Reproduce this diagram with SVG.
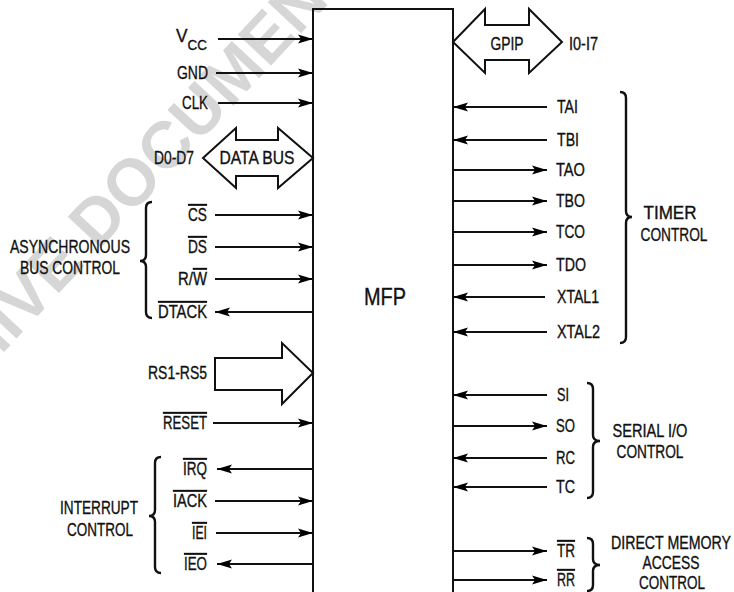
<svg xmlns="http://www.w3.org/2000/svg" width="734" height="592" viewBox="0 0 734 592">
<defs>
<marker id="ah" markerUnits="userSpaceOnUse" markerWidth="16" markerHeight="10" refX="15" refY="5" orient="auto">
<path d="M0,0.5 L15,5 L0,9.5 L3,5 Z" fill="#000"/>
</marker>
<style>
.t{font-family:"Liberation Sans",Arial,sans-serif;font-size:18px;fill:#111;stroke:#111;stroke-width:0.35}
.e{text-anchor:end}
.m{text-anchor:middle}
.ol{text-decoration:overline}
.w{fill:none;stroke:#111;stroke-width:2}
.a{fill:none;stroke:#111;stroke-width:2;marker-end:url(#ah)}
.b{fill:#fff;stroke:#111;stroke-width:2;stroke-linejoin:miter}
.br{fill:none;stroke:#111;stroke-width:2.4}
.wm{font-family:"Liberation Sans",Arial,sans-serif;font-size:66px;font-weight:bold;fill:#b4b4b4;fill-opacity:0.55}
</style>
</defs>
<rect width="734" height="592" fill="#fff"/>
<g id="watermark">
<text class="wm" x="86" y="264" text-anchor="end" transform="rotate(-47 86 264)">ARCHIVE</text>
<text class="wm" x="98" y="251" transform="rotate(-47 98 251)">DOCUMENT</text>
</g>
<g id="mfp">
<path class="w" d="M313,592 V9 H453 V592" stroke-width="2.5"/>
<text class="t m" x="385" y="305" style="font-size:24px" textLength="42" lengthAdjust="spacingAndGlyphs">MFP</text>
</g>
<g id="connectors">
<line class="a" x1="218" y1="39" x2="313" y2="39"/>
<line class="a" x1="216" y1="73" x2="313" y2="73"/>
<line class="a" x1="218" y1="103" x2="313" y2="103"/>
<line class="a" x1="215" y1="215" x2="313" y2="215"/>
<line class="a" x1="215" y1="247" x2="313" y2="247"/>
<line class="a" x1="215" y1="279" x2="313" y2="279"/>
<line class="a" x1="313" y1="312" x2="215" y2="312"/>
<line class="a" x1="213" y1="423" x2="313" y2="423"/>
<line class="a" x1="313" y1="469" x2="217" y2="469"/>
<line class="a" x1="215" y1="501" x2="313" y2="501"/>
<line class="a" x1="216" y1="533" x2="313" y2="533"/>
<line class="a" x1="313" y1="564" x2="217" y2="564"/>
<line class="a" x1="547" y1="107" x2="453" y2="107"/>
<line class="a" x1="547" y1="140" x2="453" y2="140"/>
<line class="a" x1="453" y1="170" x2="547" y2="170"/>
<line class="a" x1="453" y1="201" x2="547" y2="201"/>
<line class="a" x1="453" y1="232" x2="547" y2="232"/>
<line class="a" x1="453" y1="265" x2="547" y2="265"/>
<line class="a" x1="545" y1="297" x2="453" y2="297"/>
<line class="a" x1="547" y1="332" x2="453" y2="332"/>
<line class="a" x1="547" y1="395" x2="453" y2="395"/>
<line class="a" x1="453" y1="426" x2="547" y2="426"/>
<line class="a" x1="547" y1="458" x2="453" y2="458"/>
<line class="a" x1="547" y1="487" x2="453" y2="487"/>
<line class="a" x1="453" y1="551" x2="547" y2="551"/>
<line class="a" x1="453" y1="580" x2="547" y2="580"/>
</g>
<g id="databus">
<path class="b" d="M203,158 L236,128 L236,140 L278,140 L278,128 L313,158 L278,188 L278,176 L236,176 L236,188 Z"/>
<text class="t m" x="257" y="164" textLength="75" lengthAdjust="spacingAndGlyphs">DATA BUS</text>
<text class="t e" x="194" y="164" textLength="40" lengthAdjust="spacingAndGlyphs">D0-D7</text>
</g>
<g id="gpip">
<path class="b" d="M453,42 L485,9 L485,25 L529,25 L529,9 L562,42 L529,73 L529,60 L485,60 L485,73 Z"/>
<text class="t m" x="507" y="50" textLength="33" lengthAdjust="spacingAndGlyphs">GPIP</text>
<text class="t" x="569" y="50" textLength="29" lengthAdjust="spacingAndGlyphs">I0-I7</text>
</g>
<g id="rs">
<path class="b" d="M215,358 L282,358 L282,343 L313,373 L282,404 L282,390 L215,390 Z"/>
<text class="t e" x="207" y="379" textLength="59" lengthAdjust="spacingAndGlyphs">RS1-RS5</text>
</g>
<g id="left-labels">
<text class="t e" x="207" y="42" textLength="31" lengthAdjust="spacingAndGlyphs">V<tspan dy="8" style="font-size:14px">CC</tspan></text>
<text class="t e" x="208" y="79" textLength="31" lengthAdjust="spacingAndGlyphs">GND</text>
<text class="t e" x="208" y="109" textLength="26" lengthAdjust="spacingAndGlyphs">CLK</text>
<text class="t e ol" x="207" y="221" textLength="19" lengthAdjust="spacingAndGlyphs">CS</text>
<text class="t e ol" x="207" y="253" textLength="19" lengthAdjust="spacingAndGlyphs">DS</text>
<text class="t e" x="207" y="285" textLength="29" lengthAdjust="spacingAndGlyphs">R/<tspan class="ol">W</tspan></text>
<text class="t e ol" x="207" y="318" textLength="49" lengthAdjust="spacingAndGlyphs">DTACK</text>
<text class="t e ol" x="207" y="429" textLength="44" lengthAdjust="spacingAndGlyphs">RESET</text>
<text class="t e ol" x="207" y="475" textLength="24" lengthAdjust="spacingAndGlyphs">IRQ</text>
<text class="t e ol" x="207" y="507" textLength="34" lengthAdjust="spacingAndGlyphs">IACK</text>
<text class="t e ol" x="207" y="539" textLength="15" lengthAdjust="spacingAndGlyphs">IEI</text>
<text class="t e ol" x="207" y="570" textLength="23" lengthAdjust="spacingAndGlyphs">IEO</text>
</g>
<g id="right-labels">
<text class="t" x="557" y="113" textLength="21" lengthAdjust="spacingAndGlyphs">TAI</text>
<text class="t" x="557" y="146" textLength="22" lengthAdjust="spacingAndGlyphs">TBI</text>
<text class="t" x="556" y="176" textLength="29" lengthAdjust="spacingAndGlyphs">TAO</text>
<text class="t" x="556" y="207" textLength="29" lengthAdjust="spacingAndGlyphs">TBO</text>
<text class="t" x="556" y="238" textLength="29" lengthAdjust="spacingAndGlyphs">TCO</text>
<text class="t" x="556" y="271" textLength="30" lengthAdjust="spacingAndGlyphs">TDO</text>
<text class="t" x="557" y="303" textLength="42" lengthAdjust="spacingAndGlyphs">XTAL1</text>
<text class="t" x="557" y="338" textLength="43" lengthAdjust="spacingAndGlyphs">XTAL2</text>
<text class="t" x="557" y="401" textLength="12" lengthAdjust="spacingAndGlyphs">SI</text>
<text class="t" x="556" y="432" textLength="19" lengthAdjust="spacingAndGlyphs">SO</text>
<text class="t" x="556" y="464" textLength="19" lengthAdjust="spacingAndGlyphs">RC</text>
<text class="t" x="556" y="493" textLength="19" lengthAdjust="spacingAndGlyphs">TC</text>
<text class="t ol" x="557" y="557" textLength="18" lengthAdjust="spacingAndGlyphs">TR</text>
<text class="t ol" x="557" y="586" textLength="18" lengthAdjust="spacingAndGlyphs">RR</text>
</g>
<g id="async-group">
<path class="br" d="M152,202 Q146,202 146,208 L146,255 Q146,261 140,261 Q146,261 146,267 L146,312 Q146,318 152,318"/>
<text class="t m" x="70" y="253" textLength="120" lengthAdjust="spacingAndGlyphs">ASYNCHRONOUS</text>
<text class="t m" x="70" y="274" textLength="100" lengthAdjust="spacingAndGlyphs">BUS CONTROL</text>
</g>
<g id="interrupt-group">
<path class="br" d="M161,457 Q155,457 155,463 L155,510 Q155,516 149,516 Q155,516 155,522 L155,567 Q155,573 161,573"/>
<text class="t m" x="99" y="514" textLength="78" lengthAdjust="spacingAndGlyphs">INTERRUPT</text>
<text class="t m" x="100" y="536" textLength="66" lengthAdjust="spacingAndGlyphs">CONTROL</text>
</g>
<g id="timer-group">
<path class="br" d="M620,92 Q626,92 626,98 L626,211 Q626,217 632,217 Q626,217 626,223 L626,337 Q626,343 620,343"/>
<text class="t m" x="670" y="219" textLength="53" lengthAdjust="spacingAndGlyphs">TIMER</text>
<text class="t m" x="674" y="241" textLength="67" lengthAdjust="spacingAndGlyphs">CONTROL</text>
</g>
<g id="serial-group">
<path class="br" d="M587,383 Q593,383 593,389 L593,435 Q593,441 600,441 Q593,441 593,447 L593,492 Q593,498 587,498"/>
<text class="t m" x="650" y="437" textLength="75" lengthAdjust="spacingAndGlyphs">SERIAL I/O</text>
<text class="t m" x="650" y="458" textLength="67" lengthAdjust="spacingAndGlyphs">CONTROL</text>
</g>
<g id="dma-group">
<path class="br" d="M587,538 Q593,538 593,544 L593,559 Q593,565 600,565 Q593,565 593,571 L593,585 Q593,591 587,591"/>
<text class="t m" x="671" y="549" textLength="120" lengthAdjust="spacingAndGlyphs">DIRECT MEMORY</text>
<text class="t m" x="671" y="569" textLength="57" lengthAdjust="spacingAndGlyphs">ACCESS</text>
<text class="t m" x="672" y="589" textLength="66" lengthAdjust="spacingAndGlyphs">CONTROL</text>
</g>
</svg>
